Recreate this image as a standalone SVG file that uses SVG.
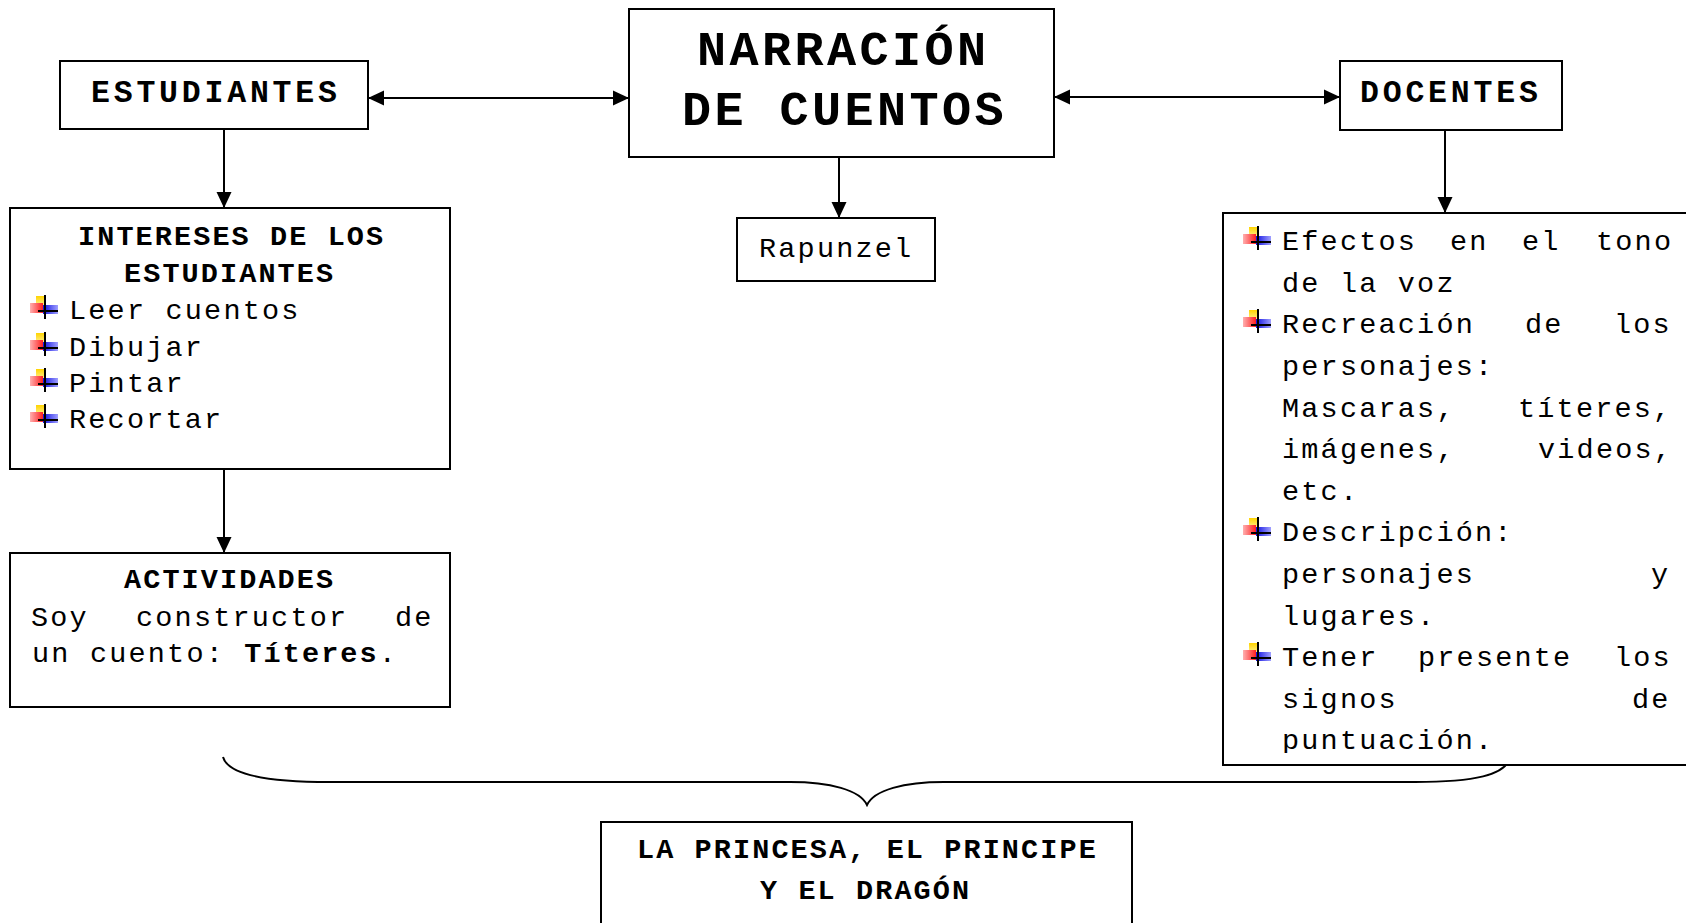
<svg xmlns="http://www.w3.org/2000/svg" xmlns:xlink="http://www.w3.org/1999/xlink" width="1686" height="923" viewBox="0 0 1686 923">
<style>
.box{fill:#fff;stroke:#000;stroke-width:2}
.t{font-family:"Liberation Mono","Courier New",monospace;font-size:28.5px;letter-spacing:2.2px;fill:#000}
.b{font-weight:bold;letter-spacing:2.1px}
.top{font-size:31.5px;letter-spacing:3.8px;font-weight:bold}
.title{font-size:48.5px;letter-spacing:3.4px;font-weight:bold}
.con{fill:none;stroke:#000;stroke-width:2}
</style>
<defs>
<marker id="ah" viewBox="0 0 16 16" markerUnits="userSpaceOnUse" markerWidth="16" markerHeight="16" refX="16" refY="8" orient="auto-start-reverse">
<path d="M0,0.5 L16,8 L0,15.5 z" fill="#000"/>
</marker>
<linearGradient id="gy" x1="0" y1="0" x2="0" y2="1"><stop offset="0" stop-color="#ffd400"/><stop offset="1" stop-color="#fff3a0"/></linearGradient>
<linearGradient id="gr" x1="1" y1="0" x2="0" y2="0"><stop offset="0" stop-color="#ff2020"/><stop offset="1" stop-color="#ffb0b0"/></linearGradient>
<linearGradient id="gb" x1="0" y1="0" x2="1" y2="0"><stop offset="0" stop-color="#1010e0"/><stop offset="1" stop-color="#a0a0ff"/></linearGradient>
<g id="bul">
<rect x="6" y="-23" width="10" height="11" fill="url(#gy)"/>
<rect x="0" y="-16" width="13" height="10" fill="url(#gr)"/>
<rect x="13" y="-14" width="15" height="9" fill="url(#gb)"/>
<line x1="15" y1="-24" x2="15" y2="0" stroke="#000" stroke-width="2"/>
<line x1="8" y1="-8" x2="28" y2="-8" stroke="#000" stroke-width="2"/>
</g>
<clipPath id="clipR"><rect x="1224" y="214" width="470" height="539"/></clipPath>
</defs>

<g id="connectors">
<line class="con" x1="368" y1="98" x2="629" y2="98" marker-start="url(#ah)" marker-end="url(#ah)"/>
<line class="con" x1="1054" y1="97" x2="1340" y2="97" marker-start="url(#ah)" marker-end="url(#ah)"/>
<line class="con" x1="224" y1="130" x2="224" y2="208" marker-end="url(#ah)"/>
<line class="con" x1="1445" y1="130" x2="1445" y2="213" marker-end="url(#ah)"/>
<line class="con" x1="839" y1="157" x2="839" y2="218" marker-end="url(#ah)"/>
<line class="con" x1="224" y1="462" x2="224" y2="553" marker-end="url(#ah)"/>
<path class="con" d="M223,757 C228,775 270,782 330,782 L790,782 C830,782 860,790 867,805 C874,790 904,782 944,782 L1415,782 C1475,782 1505,775 1510,758"/>
</g>

<g id="narracion">
<rect class="box" x="629" y="9" width="425" height="148"/>
<text class="t title" x="697" y="65">NARRACIÓN</text>
<text class="t title" x="682" y="125">DE CUENTOS</text>
</g>

<g id="estudiantes">
<rect class="box" x="60" y="61" width="308" height="68"/>
<text class="t top" x="91" y="102">ESTUDIANTES</text>
</g>

<g id="docentes">
<rect class="box" x="1340" y="61" width="222" height="69"/>
<text class="t top" x="1360" y="102">DOCENTES</text>
</g>

<g id="rapunzel">
<rect class="box" x="737" y="218" width="198" height="63"/>
<text class="t" x="759" y="257">Rapunzel</text>
</g>

<g id="intereses">
<rect class="box" x="10" y="208" width="440" height="261"/>
<text class="t b" x="78" y="245">INTERESES DE LOS</text>
<text class="t b" x="124" y="282">ESTUDIANTES</text>
<use xlink:href="#bul" x="30" y="319"/>
<text class="t" x="69" y="319">Leer cuentos</text>
<use xlink:href="#bul" x="30" y="356"/>
<text class="t" x="69" y="356">Dibujar</text>
<use xlink:href="#bul" x="30" y="392"/>
<text class="t" x="69" y="392">Pintar</text>
<use xlink:href="#bul" x="30" y="428"/>
<text class="t" x="69" y="428">Recortar</text>
</g>

<g id="actividades">
<rect class="box" x="10" y="553" width="440" height="154"/>
<text class="t b" x="124" y="588">ACTIVIDADES</text>
<text class="t" y="626"><tspan x="31">Soy</tspan><tspan x="136">constructor</tspan><tspan x="395">de</tspan></text>
<text class="t" x="32" y="662">un cuento: <tspan class="b">Títeres</tspan>.</text>
</g>

<g id="docentes-lista">
<rect class="box" x="1223" y="213" width="470" height="552"/>
<g clip-path="url(#clipR)">
<use xlink:href="#bul" x="1243" y="250"/>
<text class="t" y="250"><tspan x="1282">Efectos</tspan><tspan x="1450">en</tspan><tspan x="1522">el</tspan><tspan x="1596">tono</tspan></text>
<text class="t" x="1282" y="291.6">de la voz</text>
<use xlink:href="#bul" x="1243" y="333"/>
<text class="t" y="333"><tspan x="1282">Recreación</tspan><tspan x="1525">de</tspan><tspan x="1614">los</tspan></text>
<text class="t" x="1282" y="375">personajes:</text>
<text class="t" y="416.5"><tspan x="1282">Mascaras,</tspan><tspan x="1518">títeres,</tspan></text>
<text class="t" y="458"><tspan x="1282">imágenes,</tspan><tspan x="1538">videos,</tspan></text>
<text class="t" x="1282" y="500">etc.</text>
<use xlink:href="#bul" x="1243" y="541"/>
<text class="t" x="1282" y="541">Descripción:</text>
<text class="t" y="583"><tspan x="1282">personajes</tspan><tspan x="1651">y</tspan></text>
<text class="t" x="1282" y="624.5">lugares.</text>
<use xlink:href="#bul" x="1243" y="666"/>
<text class="t" y="666"><tspan x="1282">Tener</tspan><tspan x="1418">presente</tspan><tspan x="1614">los</tspan></text>
<text class="t" y="707.6"><tspan x="1282">signos</tspan><tspan x="1632">de</tspan></text>
<text class="t" x="1282" y="749">puntuación.</text>
</g>
</g>

<g id="princesa">
<rect class="box" x="601" y="822" width="531" height="110"/>
<text class="t b" x="637" y="858">LA PRINCESA, EL PRINCIPE</text>
<text class="t b" x="760" y="899">Y EL DRAGÓN</text>
</g>
</svg>
